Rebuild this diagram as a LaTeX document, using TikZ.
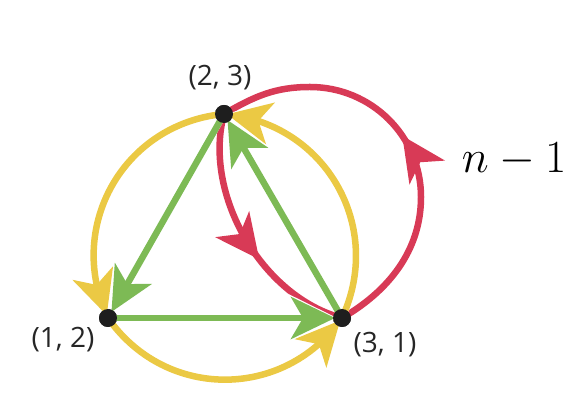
\documentclass[tikz,border=0pt]{standalone}
\usepackage{fontspec}
\newfontfamily\lab{Open Sans}
\usetikzlibrary{arrows.meta,bending,decorations.markings}
\definecolor{ylw}{HTML}{EBC944}
\definecolor{grn}{HTML}{7DBA55}
\definecolor{rd}{HTML}{D83A56}
\definecolor{dotc}{HTML}{1E1E1E}
\tikzset{
  bigtip/.tip={Stealth[length=44pt,width=42pt,inset=12pt]},
  halo/.tip={Stealth[length=48pt,width=47pt,inset=13pt]},
  yarc/.style={preaction={draw=white, line width=6.5pt, -{halo}, shorten >=1pt},
               draw=ylw, line width=6.5pt, -{bigtip}, shorten >=3pt},
  garr/.style={preaction={draw=white, line width=6.5pt, -{halo}, shorten >=5pt, shorten <=6pt},
               draw=grn, line width=6.5pt, -{bigtip}, shorten >=7pt, shorten <=6pt},
  rline/.style={draw=rd, line width=6.5pt},
  rmark/.style={postaction={decorate}, decoration={markings, mark=at position #1 with {\arrow[rd]{bigtip}}}},
  vdot/.style={circle, fill=dotc, inner sep=0pt, minimum size=18pt},
  vlab/.style={font=\lab\fontsize{28}{32}\selectfont, text=black!85, inner sep=0pt}
}
\begin{document}
\begin{tikzpicture}[x=1pt,y=1pt]
\useasboundingbox (0,0) rectangle (588,406);
\node[vdot] (A) at (224,292) {};
\node[vdot] (B) at (108,88) {};
\node[vdot] (C) at (342,88) {};
\coordinate (R) at (421,209);
\coordinate (T) at (310,319);
% red loop
\draw[rline, rmark=0.6] (A.center) to[out=-105, in=165, looseness=0.9] (C.center);
\draw[rline, rmark=0.52] (C.center) to[out=30,in=-90,looseness=0.95] (R) to[out=90,in=0] (T) to[out=180,in=30] (A.center);
% yellow arcs
\draw[yarc] (A.center) to[bend right=55, looseness=1.1] (B.center);
\draw[yarc] (B.center) to[bend right=55, looseness=1.1] (C.center);
\draw[yarc] (C.center) to[bend right=55, looseness=1.1] (A.center);
% green triangle
\draw[garr] (A.center) -- (B.center);
\draw[garr] (B.center) -- (C.center);
\draw[garr] (C.center) -- (A.center);
% dots on top
\node[vdot] at (A) {};
\node[vdot] at (B) {};
\node[vdot] at (C) {};
% labels
\node[vlab] (la) at (220,328) {(2, 3)};
\node[vlab] (lb) at (63,66) {(1, 2)};
\node[vlab] (lc) at (385,61) {(3, 1)};
\node[inner sep=0pt, font=\Huge, scale=1.85] (ln) at (514,246) {$n-1$};
\end{tikzpicture}
\end{document}
